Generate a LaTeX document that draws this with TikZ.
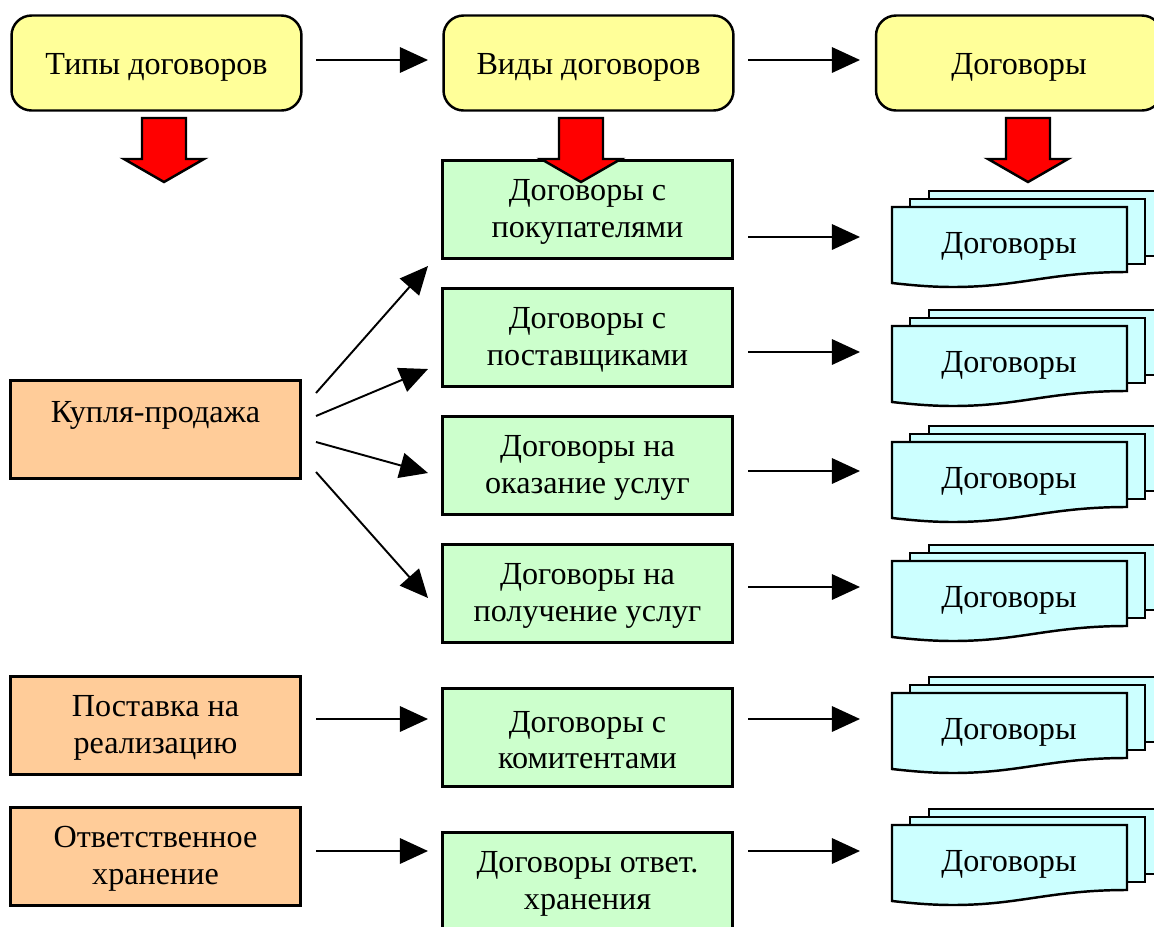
\documentclass[tikz,border=0pt]{standalone}
\usepackage{fontspec}
\setmainfont{Liberation Serif}
\usetikzlibrary{arrows.meta,positioning}

\tikzset{
    box/.style={draw=black,line width=1.4pt,minimum width=5.8cm,minimum height=1.96cm,
        inner sep=0pt,align=center,text height=36pt,font=\fontsize{18.3}{21}\selectfont},
    head/.style={box,fill=headyellow,rounded corners=0.4cm,minimum height=1.9cm,text height=17pt},
    kind/.style={box,fill=kindgreen},
    type/.style={box,fill=typeorange},
    sheet/.style={draw=black,line width=1.4pt,fill=doccyan},
    docname/.style={font=\fontsize{18.3}{21}\selectfont,inner sep=0pt},
    arr/.style={->,line width=1.1pt},
    bigarr/.style={draw=black,line width=1.4pt,fill=red}
}
\definecolor{headyellow}{HTML}{FFFF99}
\definecolor{kindgreen}{HTML}{CCFFCC}
\definecolor{typeorange}{HTML}{FFCC99}
\definecolor{doccyan}{HTML}{CCFFFF}

\begin{document}
\begin{tikzpicture}[x=0.02cm,y=-0.02cm,>={Triangle[length=16pt,width=14.5pt]}]
    \useasboundingbox (0,0) rectangle (1154,927);
    \clip (0,0) rectangle (1154,927);

    % top row
    \node (head1) [head] at (156.5,63) {Типы договоров};
    \node (head2) [head] at (588.5,63) {Виды договоров};
    \node (head3) [head,minimum width=5.72cm] at (1019,63) {Договоры};

    % kinds of contract
    \node (kind1) [kind] at (587.5,209.5) {Договоры с\\покупателями};
    \node (kind2) [kind] at (587.5,337.5) {Договоры с\\поставщиками};
    \node (kind3) [kind] at (587.5,465.5) {Договоры на\\оказание услуг};
    \node (kind4) [kind] at (587.5,593.5) {Договоры на\\получение услуг};
    \node (kind5) [kind] at (587.5,737.5) {Договоры с\\комитентами};
    \node (kind6) [kind] at (587.5,881.5) {Договоры ответ.\\хранения};

    % types of contract
    \node (type1) [type,text height=34pt] at (155.5,429.5) {Купля-продажа\\ \ };
    \node (type2) [type] at (155.5,725.5) {Поставка на\\реализацию};
    \node (type3) [type] at (155.5,856.5) {Ответственное\\хранение};

    % stacks of documents
    \foreach \i/\y in {1/207,2/326,3/442,4/561,5/693,6/825} {
        \draw[sheet] (929,\y-16) rectangle (1170,\y+49);
        \draw[sheet] (910,\y-8) rectangle (1145,\y+57);
        \draw[sheet] (892,\y) -- (1127,\y) -- (1127,\y+65)
            .. controls (1050,\y+65) and (1020,\y+80) .. (953,\y+80)
            .. controls (930,\y+80) and (910,\y+78) .. (892,\y+76) -- cycle;
        \node (doc\i) [docname] at (1009,\y+39) {Договоры};
    }

    % red arrows
    \foreach \x in {164,581,1028}
        \draw[bigarr] (\x-22,118) -- (\x+22,118) -- (\x+22,159) -- (\x+40,159)
            -- (\x,182) -- (\x-40,159) -- (\x-22,159) -- cycle;

    % ends of the arrows
    \foreach \n/\x/\y in {a/316/60,b/428/60,c/748/60,d/860/60,
                          e/316/719,f/428/719,g/316/851,h/428/851}
        \coordinate (\n) at (\x,\y);
    \draw[arr] (a) -- (b);
    \draw[arr] (c) -- (d);
    \draw[arr] (e) -- (f);
    \draw[arr] (g) -- (h);

    % fan out of the first type
    \foreach \i/\sy/\ey in {1/393/266,2/416/369,3/442/473,4/472/598} {
        \coordinate (fan\i) at (316,\sy);
        \coordinate (end\i) at (428,\ey);
        \draw[arr] (fan\i) -- (end\i);
    }

    % from the kinds to the documents
    \foreach \i/\y in {1/237,2/352,3/471,4/587,5/719,6/851} {
        \coordinate (out\i) at (748,\y);
        \coordinate (in\i) at (860,\y);
        \draw[arr] (out\i) -- (in\i);
    }
\end{tikzpicture}
\end{document}
